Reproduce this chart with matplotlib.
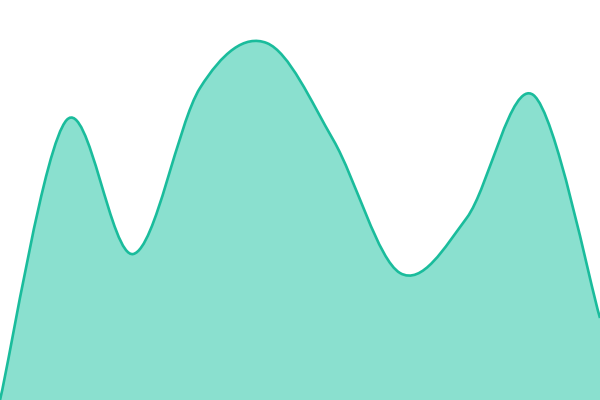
import matplotlib
matplotlib.use('Agg')
import matplotlib.pyplot as plt
from matplotlib.path import Path
from matplotlib.patches import PathPatch

# values (pixel height above the bottom edge)
steps = [0, 1, 2, 3, 4, 5, 6, 7, 8, 9]
values = [0, 280, 146, 312, 357, 260, 127, 182, 305, 82]

line_color = '#1abc9c'
fill_color = '#8ae0cf'


def cardinal_path(xs, ys):
    # smooth curve through the points, built from cubic bezier segments
    pts = list(zip(xs, ys))
    ext = [pts[0]] + pts + [pts[-1]]
    verts = [pts[0]]
    codes = [Path.MOVETO]
    for i in range(1, len(ext) - 2):
        p0, p1, p2, p3 = ext[i - 1], ext[i], ext[i + 1], ext[i + 2]
        c1 = (p1[0] + (p2[0] - p0[0]) / 6, p1[1] + (p2[1] - p0[1]) / 6)
        c2 = (p2[0] - (p3[0] - p1[0]) / 6, p2[1] - (p3[1] - p1[1]) / 6)
        verts += [c1, c2, p2]
        codes += [Path.CURVE4] * 3
    return verts, codes


fig = plt.figure(figsize=(6, 4), dpi=100)
ax = fig.add_axes([0, 0, 1, 1])

verts, codes = cardinal_path(steps, values)
area_verts = verts + [(steps[-1], 0), (steps[0], 0), verts[0]]
area_codes = codes + [Path.LINETO, Path.LINETO, Path.CLOSEPOLY]
ax.add_patch(PathPatch(Path(area_verts, area_codes), facecolor=fill_color, edgecolor='none'))
ax.add_patch(PathPatch(Path(verts, codes), facecolor='none', edgecolor=line_color, linewidth=1.9))

ax.set_xlim(steps[0], steps[-1])
ax.set_ylim(0, 400)
ax.axis('off')

fig.savefig('out.png', dpi=100)
